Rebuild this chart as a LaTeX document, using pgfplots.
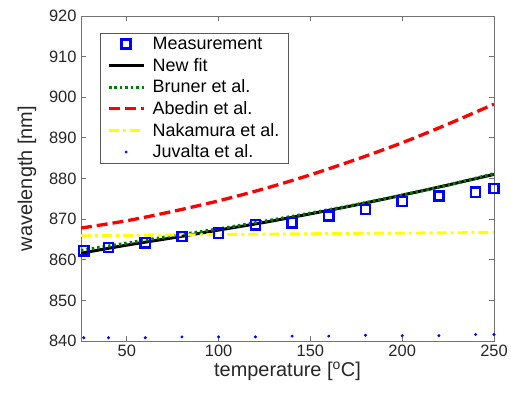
\documentclass[border=0pt]{standalone}
\usepackage{pgfplots}
\pgfplotsset{compat=1.18}
\usepackage{fontspec}
\setmainfont{Liberation Sans}
\definecolor{mblue}{RGB}{0,0,255}
\definecolor{mgreen}{RGB}{0,128,0}
\definecolor{myellow}{RGB}{255,255,0}
\begin{document}
\begin{tikzpicture}
\begin{axis}[
  scale only axis,
  width=413bp, height=325bp,
  xmin=25, xmax=250, ymin=840, ymax=920,
  xtick={50,100,150,200,250},
  ytick={840,850,...,920},
  tick align=inside,
  tick pos=both,
  major tick length=5bp,
  axis line style={draw=black!55, line width=0.9pt},
  tick style={draw=black!55, line width=0.9pt},
  /pgf/number format/assume math mode=true,
  /pgf/number format/set thousands separator={},
  tick label style={font=\fontsize{16.5}{19}\selectfont, text=black!85},
  xticklabel style={yshift=-1bp},
  yticklabel style={xshift=-1bp},
  label style={font=\fontsize{20}{23}\selectfont, text=black!85},
  xlabel={temperature [\textsuperscript{o}C]},
  ylabel={wavelength [nm]},
  xlabel style={yshift=2bp},
  ylabel style={yshift=6bp},
  legend cell align=left,
  legend image code/.code={\draw[mark repeat=2,mark phase=2,#1] plot coordinates {(0cm,0cm) (0.61cm,0cm) (1.22cm,0cm)}; \path (1.42cm,0cm);},
  legend style={at={(0.046,0.948)}, anchor=north west,
    font=\fontsize{18}{21}\selectfont,
    draw=black!65,
    row sep=3.2bp, inner xsep=7bp, inner ysep=2bp},
]
\addplot[only marks, mark=square, mark size=4.6bp, mark options={draw=mblue, line width=2.5pt}]
coordinates {(26.5,862.2) (40,863.0) (60,864.2) (80,865.7) (100,866.5) (120,868.6) (140,869.1) (160,870.8) (180,872.4) (200,874.3) (220,875.7) (240,876.6) (250,877.5)};
\addlegendentry{Measurement}
\addplot[black, line width=3pt, smooth]
coordinates {(25,861.6) (50,863.6) (75,865.4) (100,867.3) (125,869.2) (150,871.3) (175,873.5) (200,875.9) (225,878.4) (250,881.0)};
\addlegendentry{New fit}
\addplot[mgreen, line width=3pt, smooth, dash pattern=on 2.5pt off 3pt]
coordinates {(25,862.3) (50,864.1) (75,865.9) (100,867.6) (125,869.5) (150,871.5) (175,873.6) (200,875.9) (225,878.4) (250,881.2)};
\addlegendentry{Bruner et al.}
\addplot[red, line width=3.3pt, smooth, dash pattern=on 11pt off 5pt]
coordinates {(25,867.8) (50,869.6) (75,871.9) (100,874.5) (125,877.5) (150,880.9) (175,884.7) (200,888.8) (225,893.4) (250,898.3)};
\addlegendentry{Abedin et al.}
\addplot[myellow, line width=2.9pt, dash pattern=on 10pt off 4pt on 3pt off 4pt]
coordinates {(25,865.9) (100,866.2) (175,866.5) (250,866.7)};
\addlegendentry{Nakamura et al.}
\addplot[only marks, mark=*, mark size=1.3bp, mark options={draw=mblue, fill=mblue}]
coordinates {(26.5,840.8) (40,840.8) (60,840.8) (80,841.0) (100,841.0) (120,841.0) (140,841.2) (160,841.2) (180,841.4) (200,841.3) (220,841.3) (240,841.6) (250,841.6)};
\addlegendentry{Juvalta et al.}
\end{axis}
\path ([shift={(-81bp,-56bp)}]current axis.south west) rectangle ([shift={(17bp,16bp)}]current axis.north east);
\end{tikzpicture}
\end{document}
